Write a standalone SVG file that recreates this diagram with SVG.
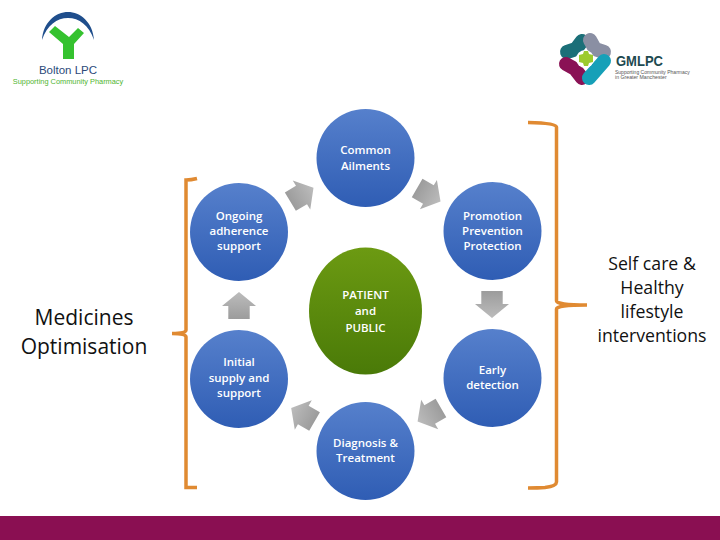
<svg xmlns="http://www.w3.org/2000/svg" width="720" height="540" viewBox="0 0 720 540">
<style>
.lbl{font-family:"Open Sans","Liberation Sans",sans-serif;font-size:11.5px;font-weight:600;fill:#fff;text-anchor:middle;transform:translateY(-.6px)}
.side{font-family:"Open Sans","Liberation Sans",sans-serif;fill:#111;text-anchor:middle}
.br{fill:none;stroke:#e08a32;stroke-width:3.5}
.lobe{fill:none;stroke-width:14;stroke-linecap:round;stroke-linejoin:round}
</style>
<defs>
<linearGradient id="blue" x1="0" y1="0" x2="0" y2="1"><stop offset="0" stop-color="#5680cc"/><stop offset="1" stop-color="#2f5db4"/></linearGradient>
<linearGradient id="green" x1="0" y1="0" x2="0" y2="1"><stop offset="0" stop-color="#6c9a12"/><stop offset="1" stop-color="#4a7a08"/></linearGradient>
<linearGradient id="grey" x1="0" y1="0" x2="1" y2="0"><stop offset="0" stop-color="#9c9c9c"/><stop offset="1" stop-color="#bcbcbc"/></linearGradient>
<polygon id="arrow" points="-13,-10.700 0,-10.700 0,-17 14,0 0,17 0,10.700 -13,10.700" fill="url(#grey)"/>
</defs>
<rect width="720" height="540" fill="#fff"/>
<rect id="footer-bar" x="0" y="516" width="720" height="24" fill="#8a0f52"/>
<g id="logo-bolton">
<path d="M42 40C43 22 56 12 68 12C80 12 93 22 94 40C89 25 79 18 68 18C57 18 47 25 42 40Z" fill="#1f4e8c"/>
<path d="M49 32L55 26L69 37L78 28L84 33L74 44V59H63V44Z" fill="#35c22f"/>
<text x="68" y="74" font-family="'Liberation Sans',sans-serif" font-size="11.500" fill="#2b4a7a" text-anchor="middle">Bolton LPC</text>
<text x="68" y="84" font-family="'Liberation Sans',sans-serif" font-size="7.400" fill="#4fb52f" text-anchor="middle">Supporting Community Pharmacy</text>
</g>
<g id="logo-gmlpc">
<path class="lobe" stroke="#1b6f78" d="M567 52L576 49L582 41"/>
<path class="lobe" stroke="#8a8fa3" d="M590 40L595 49L604 52"/>
<path class="lobe" stroke="#8a1255" d="M566 64L575 69L582 78"/>
<path class="lobe" stroke="#16a0b8" d="M604 61L597 69L589 78"/>
<circle cx="585" cy="59" r="9" fill="#fff"/>
<path d="M579 55L583 54L584 51H588L589 54L593 55V62L589 63L588 66H584L583 63L579 62Z" fill="#9ccb2e"/>
<text x="616" y="66" font-family="'Liberation Sans',sans-serif" font-size="14.500" font-weight="700" fill="#1d4a50" textLength="47" lengthAdjust="spacingAndGlyphs">GMLPC</text>
<text x="615" y="73.500" font-family="'Liberation Sans',sans-serif" font-size="5" fill="#555">Supporting Community Pharmacy</text>
<text x="615" y="79" font-family="'Liberation Sans',sans-serif" font-size="5.200" fill="#555">in Greater Manchester</text>
</g>
<g id="connectors">
<use href="#arrow" transform="translate(301.5 195) rotate(-31)"/>
<use href="#arrow" transform="translate(428.4 194.6) rotate(30)"/>
<use href="#arrow" transform="translate(492 304) rotate(90)"/>
<use href="#arrow" transform="translate(429.7 414.5) rotate(150)"/>
<use href="#arrow" transform="translate(303.3 415) rotate(210)"/>
<use href="#arrow" transform="translate(239 306) rotate(-90)"/>
<path class="br" d="M197 178.500Q191 180 186 180V330Q186 333.500 172 333.500Q186 333.500 186 337V487.500H197"/>
<path class="br" d="M528 122.500Q556.500 123 556.500 127V301Q556.500 305 587 305Q556.500 305 556.500 309V482Q556.500 486 545 487.500Q538 488 528 488"/>
</g>
<g id="node-patient"><ellipse cx="365.500" cy="311" rx="56.500" ry="63.500" fill="url(#green)"/>
<text class="lbl"><tspan x="365.500" y="300">PATIENT</tspan><tspan x="365.500" y="316">and</tspan><tspan x="365.500" y="333">PUBLIC</tspan></text></g>
<g id="node-common"><circle cx="365.500" cy="158" r="49" fill="url(#blue)"/>
<text class="lbl"><tspan x="365.500" y="155">Common</tspan><tspan x="365.500" y="170.500">Ailments</tspan></text></g>
<g id="node-promotion"><circle cx="492.500" cy="231" r="49" fill="url(#blue)"/>
<text class="lbl"><tspan x="492.500" y="220.500">Promotion</tspan><tspan x="492.500" y="235.500">Prevention</tspan><tspan x="492.500" y="250.500">Protection</tspan></text></g>
<g id="node-early"><circle cx="492.500" cy="378" r="49" fill="url(#blue)"/>
<text class="lbl"><tspan x="492.500" y="375">Early</tspan><tspan x="492.500" y="390">detection</tspan></text></g>
<g id="node-diagnosis"><circle cx="365.500" cy="451" r="49" fill="url(#blue)"/>
<text class="lbl"><tspan x="365.500" y="448">Diagnosis &amp;</tspan><tspan x="365.500" y="463">Treatment</tspan></text></g>
<g id="node-initial"><circle cx="239" cy="379" r="49" fill="url(#blue)"/>
<text class="lbl"><tspan x="239" y="367">Initial</tspan><tspan x="239" y="382.500">supply and</tspan><tspan x="239" y="397.500">support</tspan></text></g>
<g id="node-ongoing"><circle cx="239" cy="232" r="49" fill="url(#blue)"/>
<text class="lbl"><tspan x="239" y="221">Ongoing</tspan><tspan x="239" y="236">adherence</tspan><tspan x="239" y="251">support</tspan></text></g>
<g id="label-medicines"><text class="side" font-size="21"><tspan x="84" y="324.500">Medicines</tspan><tspan x="84" y="353.500">Optimisation</tspan></text></g>
<g id="label-selfcare"><text class="side" font-size="17.700"><tspan x="652" y="270">Self care &amp;</tspan><tspan x="652" y="294">Healthy</tspan><tspan x="652" y="318">lifestyle</tspan><tspan x="652" y="342">interventions</tspan></text></g>
</svg>
